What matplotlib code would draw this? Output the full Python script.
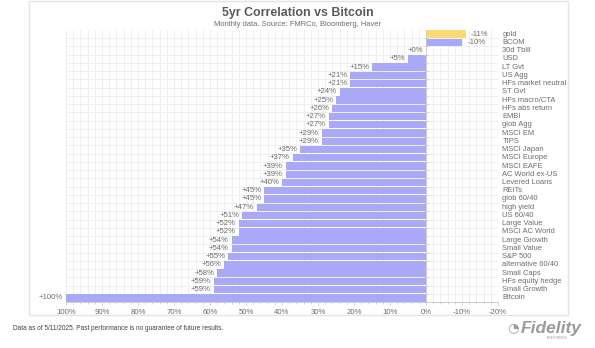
import matplotlib.pyplot as plt
from matplotlib.patches import Rectangle
from matplotlib.ticker import MultipleLocator, FuncFormatter
import numpy as np

categories = ['gold', 'BCOM', '30d Tbill', 'USD', 'LT Gvt', 'US Agg',
              'HFs market neutral', 'ST Gvt', 'HFs macro/CTA', 'HFs abs return',
              'EMBI', 'glob Agg', 'MSCI EM', 'TIPS', 'MSCI Japan', 'MSCI Europe',
              'MSCI EAFE', 'AC World ex-US', 'Levered Loans', 'REITs', 'glob 60/40',
              'high yield', 'US 60/40', 'Large Value', 'MSCI AC World',
              'Large Growth', 'Small Value', 'S&P 500', 'alternative 60/40',
              'Small Caps', 'HFs equity hedge', 'Small Growth', 'Bitcoin']
correlation = [-11, -10, 0, 5, 15, 21, 21, 24, 25, 26, 27, 27, 29, 29, 35, 37,
               39, 39, 40, 45, 45, 47, 51, 52, 52, 54, 54, 55, 56, 58, 59, 59, 100]
xticks = [100, 90, 80, 70, 60, 50, 40, 30, 20, 10, 0, -10, -20]

BLUE = '#a9a9f7'
GOLD = '#fcd977'
TXT = '#6b6b6b'

plt.rcParams['font.family'] = ['Liberation Sans', 'DejaVu Sans']


def main():
    fig = plt.figure(figsize=(5.95, 3.48), dpi=100)

    # outer frame around the chart block
    fig.patches.append(Rectangle((29 / 595, 1 - 315 / 348), 539 / 595, 314 / 348,
                                 transform=fig.transFigure, fill=False,
                                 edgecolor='#e4e4e4', linewidth=1.0))

    ax = fig.add_axes([66 / 595, 1 - 302 / 348, 432 / 595, 272 / 348])
    y = np.arange(len(categories))
    colors = [GOLD if c == 'gold' else BLUE for c in categories]
    ax.barh(y, correlation, height=0.9, color=colors, edgecolor='none', zorder=2)

    ax.set_xlim(100, -20)
    ax.set_ylim(len(categories) - 0.5, -0.5)

    # light square grid behind the bars
    ax.xaxis.set_minor_locator(MultipleLocator(2))
    ax.set_yticks(y + 0.5, minor=True)
    ax.grid(which='minor', color='#ededed', linewidth=0.6, zorder=0)
    ax.grid(which='major', axis='x', color='#ededed', linewidth=0.6, zorder=0)

    ax.set_xticks(xticks)
    ax.xaxis.set_major_formatter(FuncFormatter(lambda v, p: f'{int(v)}%'))
    ax.set_yticks([])
    ax.tick_params(axis='x', which='both', colors='#c8c8c8', labelcolor=TXT,
                   labelsize=5.6, length=2, width=0.6, pad=3)
    ax.tick_params(axis='x', which='minor', length=1.5)
    ax.tick_params(axis='y', which='minor', length=0)
    for side in ['top', 'left', 'right']:
        ax.spines[side].set_visible(False)
    ax.spines['bottom'].set_color('#c8c8c8')
    ax.spines['bottom'].set_linewidth(0.6)

    # zero line with small category ticks
    ax.axvline(0, color='#c8c8c8', linewidth=0.6, zorder=3)
    ax.plot(np.zeros(len(categories)), y + 0.5, linestyle='none', marker='_',
            markersize=3, color='#c8c8c8', markeredgewidth=0.6, zorder=3)

    for i, (name, val) in enumerate(zip(categories, correlation)):
        if val < 0:
            ax.text(val - 1.5, i, f'{val}%', ha='left', va='center',
                    fontsize=5.6, color=TXT)
        else:
            ax.text(val + 0.8, i, f'+{val}%', ha='right', va='center',
                    fontsize=5.6, color=TXT)
        ax.text(1.01, i, name, transform=ax.get_yaxis_transform(),
                ha='left', va='center', fontsize=5.4, color=TXT)

    fig.text(298 / 595, 1 - 13 / 348, '5yr Correlation vs Bitcoin', ha='center',
             va='center', fontsize=8.9, fontweight='bold', color='#5a5a5a')
    fig.text(298 / 595, 1 - 24 / 348, 'Monthly data. Source: FMRCo, Bloomberg, Haver',
             ha='center', va='center', fontsize=5.4, color=TXT)

    fig.text(13 / 595, 1 - 328 / 348,
             'Data as of 5/11/2025. Past performance is no guarantee of future results.',
             ha='left', va='center', fontsize=4.7, color='#404040')
    fig.text(521 / 595, 1 - 328 / 348, 'Fidelity', ha='left', va='center',
             fontsize=12.5, fontweight='bold', style='italic', color='#9a9a9a')
    fig.text(557 / 595, 1 - 338 / 348, 'INVESTMENTS', ha='center', va='center',
             fontsize=2.2, color='#9a9a9a')
    fig.text(513 / 595, 1 - 328 / 348, '\u25d4', ha='center', va='center',
             fontsize=9.5, color='#9a9a9a', family='DejaVu Sans')

    fig.savefig('out.png', dpi=100)


if __name__ == '__main__':
    main()
